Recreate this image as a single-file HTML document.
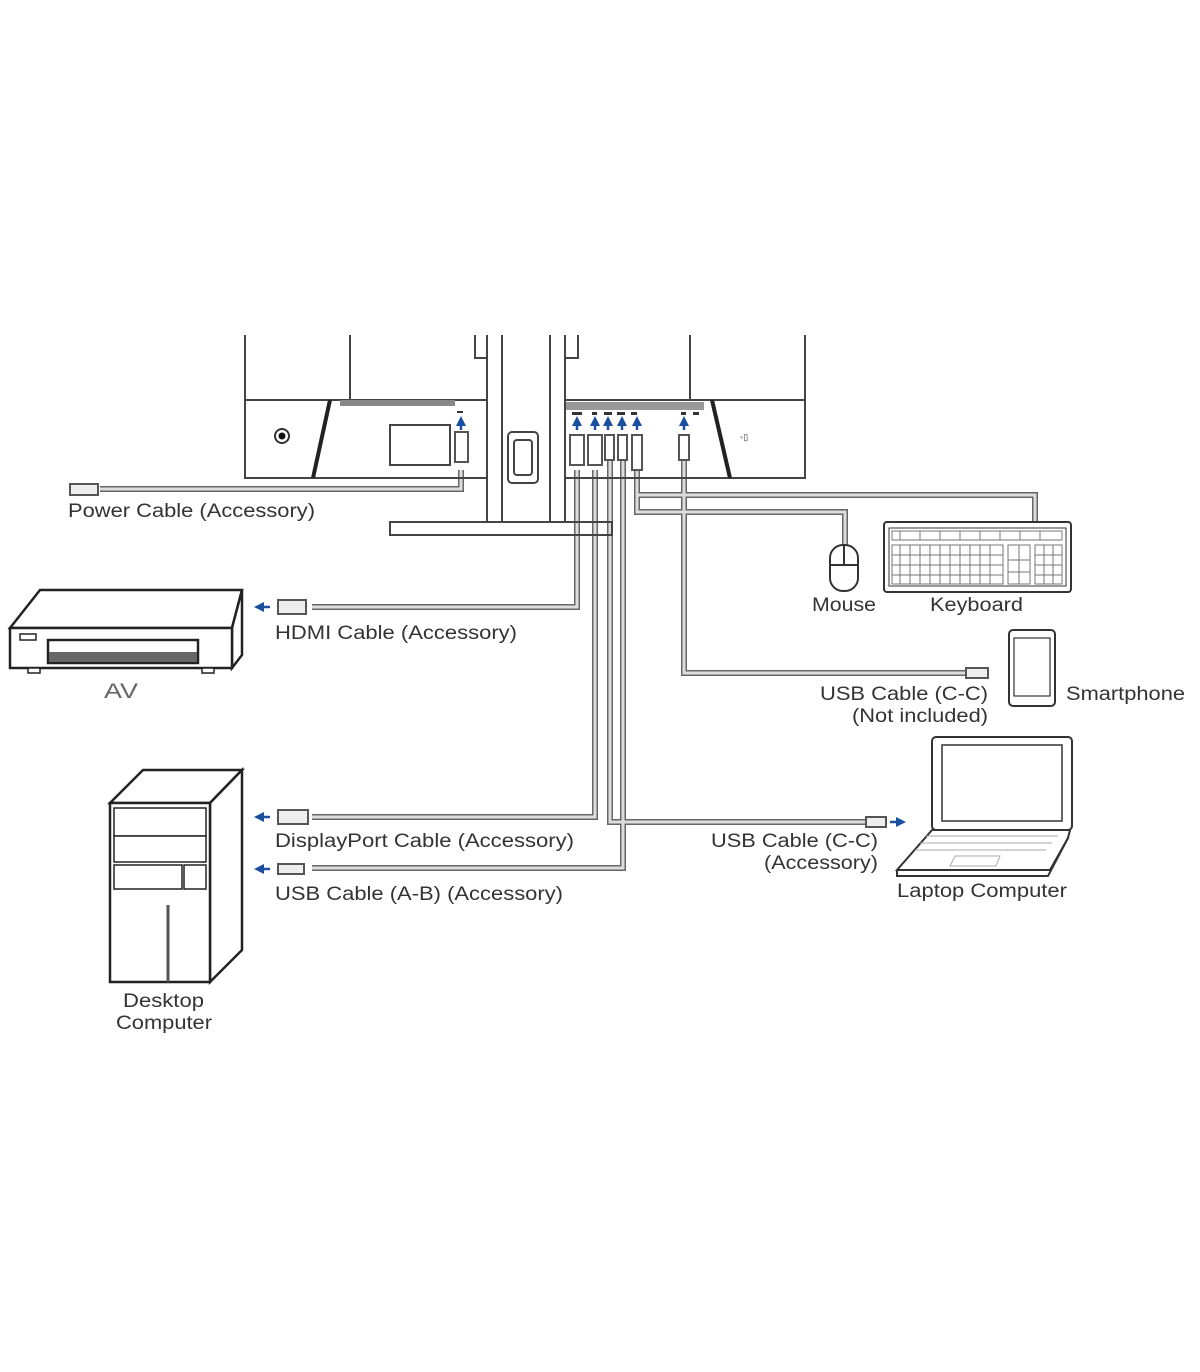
<!DOCTYPE html>
<html><head><meta charset="utf-8"><style>
html,body{margin:0;padding:0;background:#fff;}
svg{display:block;}
text{font-family:"Liberation Sans",sans-serif;font-size:19px;fill:#333;}
</style></head><body>
<svg width="1200" height="1372" viewBox="0 0 1200 1372" xmlns="http://www.w3.org/2000/svg">
<defs>
<marker id="ah" markerWidth="4" markerHeight="4" refX="2" refY="2" orient="auto" markerUnits="strokeWidth"><path d="M0,0 L4,2 L0,4 Z" fill="#1a4fa0"/></marker>
</defs>
<g fill="none" stroke="#666" stroke-width="6" stroke-linejoin="miter">
<path d="M461,470 V489 H100"/>
<path d="M577,470 V607 H312"/>
<path d="M595,470 V817 H312"/>
<path d="M610,460 V822 H870"/>
<path d="M623,460 V868 H312"/>
<path d="M637,470 V495 H1035 V522"/>
<path d="M637,470 V512 H845 V545"/>
<path d="M684,460 V673 H972"/>
</g>
<g fill="none" stroke="#ddd" stroke-width="3">
<path d="M461,470 V489 H100"/>
<path d="M577,470 V607 H312"/>
<path d="M595,470 V817 H312"/>
<path d="M610,460 V822 H870"/>
<path d="M623,460 V868 H312"/>
<path d="M637,470 V495 H1035 V522"/>
<path d="M637,470 V512 H845 V545"/>
<path d="M684,460 V673 H972"/>
</g>
<g fill="none" stroke="#444" stroke-width="2">
<path d="M245,335 V478 H487"/>
<path d="M350,335 V400"/>
<path d="M245,400 H487"/>
<path d="M565,400 H805"/>
<path d="M690,335 V400"/>
<path d="M805,335 V478 H565"/>
<path d="M487,335 V522 M502,335 V522 M550,335 V522 M565,335 V522"/>
<path d="M475,335 V358 H487 M578,335 V358 H565"/>
<rect x="390" y="425" width="60" height="40"/>
<rect x="508" y="432" width="30" height="51" rx="4"/>
<rect x="514" y="440" width="18" height="35" rx="3"/>
<rect x="390" y="522" width="222" height="13"/>
</g>
<path d="M330,400 L313,478" stroke="#222" stroke-width="4"/>
<path d="M712,400 L730,478" stroke="#222" stroke-width="4"/>
<rect x="340" y="400" width="115" height="6" fill="#888"/>
<rect x="566" y="402" width="138" height="8" fill="#999"/>
<g fill="#333"><rect x="572" y="412" width="10" height="3"/><rect x="592" y="412" width="5" height="3"/><rect x="604" y="412" width="8" height="3"/><rect x="617" y="412" width="8" height="3"/><rect x="631" y="412" width="6" height="3"/><rect x="681" y="412" width="5" height="3"/><rect x="693" y="412" width="6" height="3"/><rect x="457" y="411" width="6" height="2"/></g>
<circle cx="282" cy="436" r="7" fill="none" stroke="#333" stroke-width="2"/><circle cx="282" cy="436" r="3.5" fill="#111"/>
<text x="740" y="440" style="font-size:9px">◦▯</text>
<g fill="#fff" stroke="#555" stroke-width="2">
<rect x="455" y="432" width="13" height="30"/>
<rect x="570" y="435" width="14" height="30"/>
<rect x="588" y="435" width="14" height="30"/>
<rect x="605" y="435" width="9" height="25"/>
<rect x="618" y="435" width="9" height="25"/>
<rect x="632" y="435" width="10" height="35"/>
<rect x="679" y="435" width="10" height="25"/>
</g>
<g fill="none" stroke="#1a4fa0" stroke-width="2.5" marker-end="url(#ah)">
<path d="M461,430 V421"/><path d="M577,430 V421"/><path d="M595,430 V421"/><path d="M608,430 V421"/><path d="M622,430 V421"/><path d="M637,430 V421"/><path d="M684,430 V421"/>
</g>
<g fill="#eee" stroke="#555" stroke-width="2">
<rect x="70" y="484" width="28" height="11"/>
<rect x="278" y="600" width="28" height="14"/>
<rect x="278" y="810" width="30" height="14"/>
<rect x="278" y="864" width="26" height="10"/>
<rect x="966" y="668" width="22" height="10"/>
<rect x="866" y="817" width="20" height="10"/>
</g>
<g fill="none" stroke="#1a4fa0" stroke-width="2.5" marker-end="url(#ah)">
<path d="M270,607 H259"/><path d="M270,817 H259"/><path d="M270,869 H259"/><path d="M890,822 H901"/>
</g>
<g fill="#fff" stroke="#222" stroke-width="2.5">
<path d="M10,628 L40,590 H242 L232,628 Z"/>
<path d="M232,628 L242,590 V655 L232,668 Z"/>
<rect x="10" y="628" width="222" height="40"/>
<rect x="48" y="640" width="150" height="23"/>
<rect x="20" y="634" width="16" height="6" stroke-width="1.5"/>
<rect x="28" y="668" width="12" height="5" stroke-width="1.5"/>
<rect x="202" y="668" width="12" height="5" stroke-width="1.5"/>
</g>
<rect x="49" y="652" width="148" height="10" fill="#666"/>
<text x="104" y="698" textLength="34" lengthAdjust="spacingAndGlyphs" style="font-size:21px;fill:#666">AV</text>
<g fill="#fff" stroke="#222" stroke-width="2.5">
<path d="M110,803 L143,770 H242 L210,803 Z"/>
<path d="M210,803 L242,770 V950 L210,982 Z"/>
<rect x="110" y="803" width="100" height="179"/>
<rect x="114" y="808" width="92" height="28" stroke-width="1.5"/>
<rect x="114" y="836" width="92" height="26" stroke-width="1.5"/>
<rect x="114" y="865" width="68" height="24" stroke-width="1.5"/>
<rect x="184" y="865" width="22" height="24" stroke-width="1.5"/>
</g>
<line x1="168" y1="905" x2="168" y2="982" stroke="#555" stroke-width="3"/>
<text x="123" y="1007" textLength="81" lengthAdjust="spacingAndGlyphs">Desktop</text>
<text x="116" y="1029" textLength="96" lengthAdjust="spacingAndGlyphs">Computer</text>
<g fill="#fff" stroke="#333" stroke-width="2">
<rect x="830" y="545" width="28" height="46" rx="13"/>
<path d="M830,565 H858 M844,545 V565"/>
</g>
<g fill="#fff" stroke="#333" stroke-width="2">
<rect x="884" y="522" width="187" height="70" rx="3"/>
<rect x="889" y="528" width="177" height="58" stroke-width="1"/>
</g>
<g stroke="#777" stroke-width="1" fill="none">
<path d="M892,531 H1062 V540 H892 Z M892,545 H1003 V584 H892 Z M1008,545 H1030 V584 H1008 Z M1035,545 H1062 V584 H1035 Z"/>
<path d="M892,555 H1003 M892,565 H1003 M892,575 H1003 M1008,560 H1030 M1008,572 H1030 M1035,555 H1062 M1035,565 H1062 M1035,575 H1062"/>
<path d="M900,531 V540 M920,531 V540 M940,531 V540 M960,531 V540 M980,531 V540 M1000,531 V540 M1020,531 V540 M1040,531 V540"/>
<path d="M900,545 V584 M910,545 V584 M920,545 V584 M930,545 V584 M940,545 V584 M950,545 V584 M960,545 V584 M970,545 V584 M980,545 V584 M990,545 V584 M1019,545 V584 M1044,545 V584 M1053,545 V584"/>
</g>
<g fill="#fff" stroke="#333" stroke-width="2">
<rect x="1009" y="630" width="46" height="76" rx="4"/>
<rect x="1014" y="638" width="36" height="58" stroke-width="1.2"/>
</g>
<g fill="#fff" stroke="#333" stroke-width="2">
<rect x="932" y="737" width="140" height="93" rx="4"/>
<rect x="942" y="745" width="120" height="76" stroke-width="1.5"/>
<path d="M932,830 L1070,830 L1068,838 L1050,870 L897,870 Z"/>
<path d="M897,870 L897,876 L1048,876 L1068,838" fill="none"/>
</g>
<g stroke="#aaa" stroke-width="1" fill="none"><path d="M925,836 H1058 M920,843 H1052 M915,850 H1046 M955,856 H1000 L996,866 H950 Z"/></g>
<text x="68" y="517" textLength="247" lengthAdjust="spacingAndGlyphs">Power Cable (Accessory)</text>
<text x="275" y="639" textLength="242" lengthAdjust="spacingAndGlyphs">HDMI Cable (Accessory)</text>
<text x="275" y="847" textLength="299" lengthAdjust="spacingAndGlyphs">DisplayPort Cable (Accessory)</text>
<text x="275" y="900" textLength="288" lengthAdjust="spacingAndGlyphs">USB Cable (A-B) (Accessory)</text>
<text x="812" y="611" textLength="64" lengthAdjust="spacingAndGlyphs">Mouse</text>
<text x="930" y="611" textLength="93" lengthAdjust="spacingAndGlyphs">Keyboard</text>
<text x="820" y="700" textLength="168" lengthAdjust="spacingAndGlyphs">USB Cable (C-C)</text>
<text x="852" y="722" textLength="136" lengthAdjust="spacingAndGlyphs">(Not included)</text>
<text x="1066" y="700" textLength="119" lengthAdjust="spacingAndGlyphs">Smartphone</text>
<text x="711" y="847" textLength="167" lengthAdjust="spacingAndGlyphs">USB Cable (C-C)</text>
<text x="764" y="869" textLength="114" lengthAdjust="spacingAndGlyphs">(Accessory)</text>
<text x="897" y="897" textLength="170" lengthAdjust="spacingAndGlyphs">Laptop Computer</text>
</svg>
</body></html>
